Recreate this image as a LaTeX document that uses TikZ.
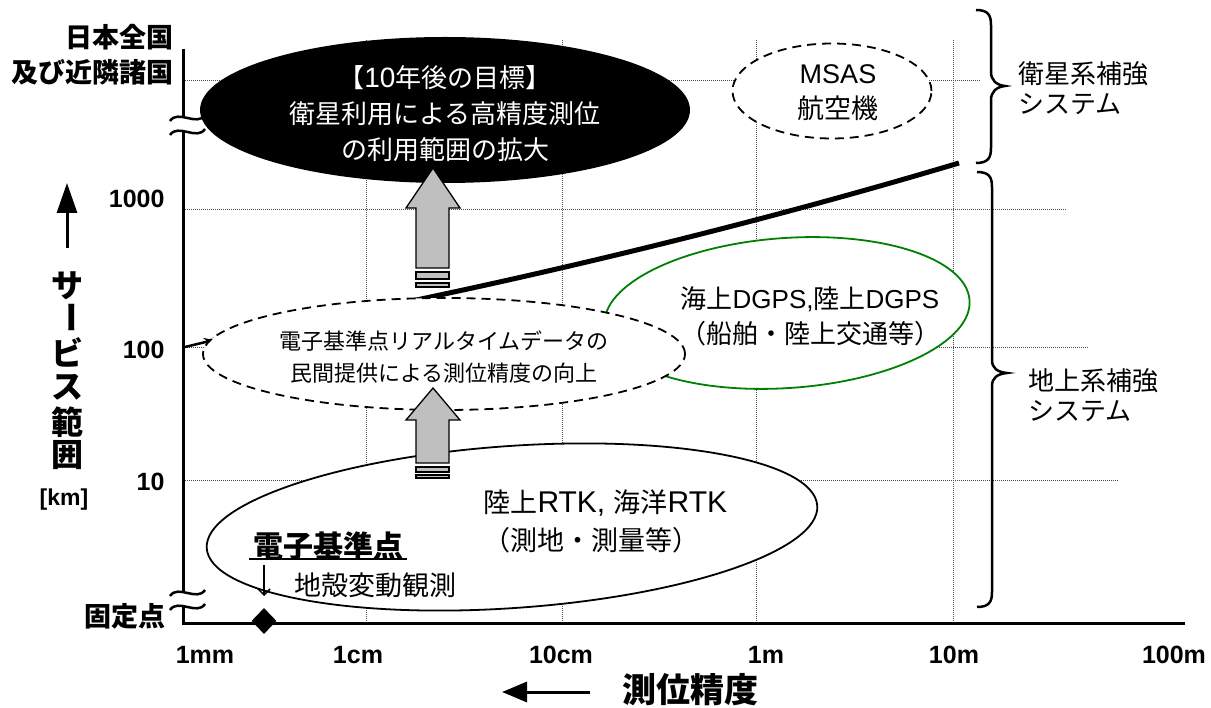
\documentclass[tikz,border=0pt]{standalone}
\usepackage{fontspec}
\setmainfont{Noto Sans CJK JP}
\newfontfamily\lat{Liberation Sans}
\usetikzlibrary{shapes.geometric,arrows.meta}
\definecolor{dgreen}{RGB}{0,128,0}
\begin{document}
\begin{tikzpicture}[x=1pt,y=-1pt,
  grid/.style={black!70, line width=0.9pt, dash pattern=on 1pt off 1pt},
  axis/.style={line width=3pt},
  ell/.style={ellipse, inner sep=0pt, line width=1.8pt},
  dashedell/.style={ell, draw, fill=white, dash pattern=on 9pt off 6pt},
  blockarrow/.style={fill=black!25, draw, line width=1.3pt},
  tick/.style={font=\lat\bfseries\fontsize{25}{27}\selectfont},
  jpb/.style={font=\bfseries\fontsize{#1}{#1}\selectfont},
  brk/.style={line width=2.5pt},
  bracestyle/.style={line width=2.5pt},
]
\useasboundingbox (0,0) rectangle (1211,708);

% grid
\foreach \x in {366,562,756,953} \draw[grid] (\x,40) -- (\x,623);
\draw[grid] (183,80) -- (980,80);
\draw[grid] (183,209) -- (1067,209);
\draw[grid] (183,347) -- (1088,347);
\draw[grid] (183,480) -- (1118,480);

% axes
\draw[axis] (183,49) -- (183,623) -- (1185,623);

% boundary curve
\draw[line width=5pt] (213,340) .. controls (443,298) and (701,240) .. (959,163);
\draw[line width=2.5pt, -{Stealth[length=10pt,width=9pt]}] (185,347) -- (214,340);

% axis breaks
\foreach \c in {125,600}{
  \fill[white] (170,\c-4) .. controls (178,\c-16) and (197,\c+2) .. (205,\c-10)
     -- (205,\c+4) .. controls (197,\c+16) and (178,\c-2) .. (170,\c+10) -- cycle;
  \draw[brk] (170,\c-4) .. controls (178,\c-16) and (197,\c+2) .. (205,\c-10);
  \draw[brk] (170,\c+10) .. controls (178,\c-2) and (197,\c+16) .. (205,\c+4);
}

% ellipses
\node[ell, fill=black, minimum width=490pt, minimum height=146pt] (goal) at (445,110) {};
\node[text=white, align=center, font=\fontsize{26}{36}\selectfont] (goaltxt) at (445,114)
  {【{\lat\fontsize{28}{36}\selectfont 10}年後の目標】\\衛星利用による高精度測位\\の利用範囲の拡大};

\node[dashedell, minimum width=199pt, minimum height=95pt] (msas) at (832,91) {};
\node[align=center, font=\fontsize{27}{35}\selectfont] (msastxt) at (838,93) {{\lat MSAS}\\航空機};

\node[ell, draw=dgreen, fill=white, minimum width=366pt, minimum height=150pt, rotate=4] (dgps) at (787,313) {};
\node[align=center, font=\fontsize{26}{35}\selectfont] (dgpstxt) at (810,316)
  {海上{\lat DGPS,}陸上{\lat DGPS}\\（船舶・陸上交通等）};

\node[dashedell, minimum width=482pt, minimum height=112pt] (rt) at (444,354) {};
\node[align=center, font=\fontsize{22}{32}\selectfont] (rttxt) at (444,357)
  {電子基準点リアルタイムデータの\\民間提供による測位精度の向上};

\node[ell, draw, fill=white, minimum width=612pt, minimum height=162pt, rotate=4] (rtk) at (512,527) {};
\node[align=left, anchor=west, font=\fontsize{27}{38}\selectfont] (rtktxt) at (480,521)
  {陸上{\lat\fontsize{30}{38}\selectfont RTK,\ }海洋{\lat\fontsize{30}{38}\selectfont RTK}\\（測地・測量等）};
\node[jpb=30] (cors) at (328,546) {電子基準点};
\draw[line width=2pt] (249,559) -- (407,559);
\coordinate (downA) at (264,565);
\coordinate (downB) at (264,596);
\draw[line width=1.5pt, -{Straight Barb[length=6pt,width=12pt]}] (downA) -- (downB);
\node[font=\fontsize{27}{27}\selectfont] (crust) at (375,585) {地殻変動観測};

% block arrows
\draw[blockarrow] (433,168) -- (460,208) -- (449,208) -- (449,268) -- (416,268) -- (416,208) -- (406,208) -- cycle;
\draw[blockarrow] (416,272) rectangle (449,279);
\draw[blockarrow] (416,283) rectangle (449,287);
\draw[blockarrow] (433,388) -- (460,420) -- (449,420) -- (449,463) -- (416,463) -- (416,420) -- (406,420) -- cycle;
\draw[blockarrow] (416,467) rectangle (449,472);
\draw[blockarrow] (416,475) rectangle (449,478);

% diamond
\node[diamond, fill=black, minimum width=25pt, minimum height=26pt, inner sep=0pt] (fix) at (264,621) {};

% y labels
\node[align=right, anchor=east, font=\bfseries\fontsize{27}{35}\selectfont] (japan) at (177,55) {日本全国\\及び近隣諸国};
\node[tick, anchor=east] (y1000) at (168,199) {1000};
\node[tick, anchor=east] (y100) at (168,350) {100};
\node[tick, anchor=east] (y10) at (168,482) {10};
\node[jpb=27, anchor=east] (fixed) at (169,616) {固定点};
\node[font=\lat\bfseries\fontsize{23}{25}\selectfont] (km) at (64,500) {[km]};

% y title
\coordinate (ya) at (67,248);
\coordinate (yb) at (67,183);
\draw[line width=3pt, -{Triangle[length=30pt,width=20pt]}] (ya) -- (yb);
\node[jpb=32] (t1) at (67,286) {サ};
\node[jpb=32, rotate=-90] (t2) at (67,318) {ー};
\node[jpb=32] (t3) at (67,352) {ビ};
\node[jpb=32] (t4) at (67,387) {ス};
\node[jpb=32] (t5) at (67,422) {範};
\node[jpb=32] (t6) at (67,455) {囲};

% x labels
\node[tick] (x1) at (205,655) {1mm};
\node[tick] (x2) at (358,655) {1cm};
\node[tick] (x3) at (561,655) {10cm};
\node[tick] (x4) at (766,655) {1m};
\node[tick] (x5) at (954,655) {10m};
\node[tick] (x6) at (1174,655) {100m};

% x title
\coordinate (xa) at (590,692);
\coordinate (xb) at (502,692);
\draw[line width=3pt, -{Triangle[length=25pt,width=20pt]}] (xa) -- (xb);
\node[jpb=34] (xt) at (690,690) {測位精度};

% braces
\draw[bracestyle] (976,10) .. controls (988,10) and (991,15) .. (991,25) -- (991,72)
   .. controls (991,80) and (996,85) .. (1005,86) .. controls (996,87) and (991,92) .. (991,100)
   -- (991,148) .. controls (991,158) and (988,163) .. (976,163);
\draw[bracestyle] (977,172) .. controls (989,172) and (992,177) .. (992,187) -- (992,360)
   .. controls (992,368) and (997,372) .. (1007,373) .. controls (997,374) and (992,378) .. (992,386)
   -- (992,592) .. controls (992,602) and (989,607) .. (977,607);
\node[align=left, anchor=west, font=\fontsize{26}{30}\selectfont] (sat) at (1015,88) {衛星系補強\\システム};
\node[align=left, anchor=west, font=\fontsize{26}{30}\selectfont] (gnd) at (1025,395) {地上系補強\\システム};
\end{tikzpicture}
\end{document}
